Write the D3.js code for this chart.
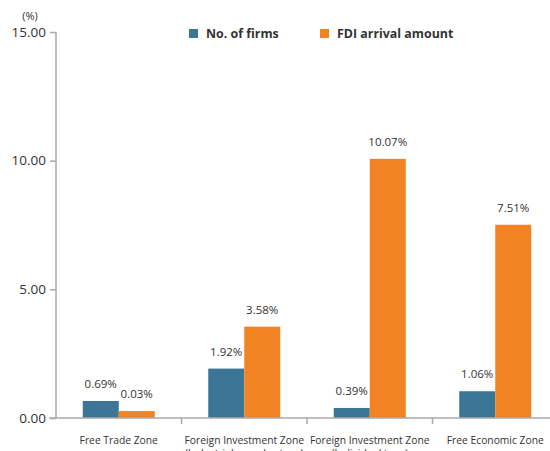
<!DOCTYPE html>
<html>
<head>
<meta charset="utf-8">
<script src="https://cdnjs.cloudflare.com/ajax/libs/d3/7.8.5/d3.min.js"></script>
<style>
  body { margin: 0; background: #fff; }
  text { font-family: "Open Sans", sans-serif; fill: #333; }
</style>
</head>
<body>
<div id="chart"></div>
<script>
// data
var categories = ["Free Trade Zone", "Foreign Investment Zone (Industrial complex type)",
                  "Foreign Investment Zone (Individual type)", "Free Economic Zone"];
var catLines = [["Free Trade Zone"],
                ["Foreign Investment Zone", "(Industrial complex type)"],
                ["Foreign Investment Zone", "(Individual type)"],
                ["Free Economic Zone"]];
var seriesNames = ["No. of firms", "FDI arrival amount"];
var firms = [0.66, 1.92, 0.39, 1.04];
var fdi = [0.27, 3.55, 10.07, 7.51];
var firmsLabels = ["0.69%", "1.92%", "0.39%", "1.06%"];
var fdiLabels = ["0.03%", "3.58%", "10.07%", "7.51%"];
var yTicks = [0, 5, 10, 15];

var colors = ["#3b7696", "#f28325"];

var width = 550, height = 451;

var svg = d3.select("#chart").append("svg")
    .attr("width", width)
    .attr("height", height);

var y = d3.scaleLinear().domain([0, 15]).range([418, 32]);

var x0 = d3.scaleBand()
    .domain(categories)
    .range([56, 558])
    .paddingInner(0.4263)
    .paddingOuter(0.21315);

var x1 = d3.scaleBand()
    .domain(seriesNames)
    .range([0, x0.bandwidth()]);

// y axis
var yAxis = d3.axisLeft(y)
    .tickValues(yTicks)
    .tickSize(6)
    .tickFormat(d3.format(".2f"));

var gy = svg.append("g")
    .attr("transform", "translate(56,0)")
    .call(yAxis);
gy.select(".domain").remove();
gy.selectAll(".tick line").attr("stroke", "#aaa").attr("stroke-width", 1.5);
gy.selectAll(".tick text")
    .attr("x", -10)
    .style("font-size", "13.5px")
    .style("font-family", "Open Sans, sans-serif")
    .attr("fill", "#333");

svg.append("line")
    .attr("x1", 56).attr("x2", 56)
    .attr("y1", y(15)).attr("y2", y(0))
    .attr("stroke", "#aaa").attr("stroke-width", 1.5);

svg.append("text")
    .attr("x", 30).attr("y", 20)
    .attr("text-anchor", "middle")
    .style("font-size", "11px")
    .text("(%)");

// bars
var rows = categories.map(function (c, i) {
    return [
        { cat: c, key: seriesNames[0], value: firms[i], label: firmsLabels[i] },
        { cat: c, key: seriesNames[1], value: fdi[i], label: fdiLabels[i] }
    ];
});

var g = svg.selectAll(".grp")
    .data(rows)
    .enter().append("g")
    .attr("transform", function (d) { return "translate(" + x0(d[0].cat) + ",0)"; });

g.selectAll("rect")
    .data(function (d) { return d; })
    .enter().append("rect")
    .attr("x", function (d) { return x1(d.key); })
    .attr("width", x1.bandwidth())
    .attr("y", function (d) { return y(d.value); })
    .attr("height", function (d) { return y(0) - y(d.value); })
    .attr("fill", function (d, i) { return colors[i]; });

g.selectAll(".label")
    .data(function (d) { return d; })
    .enter().append("text")
    .attr("class", "label")
    .attr("x", function (d) { return x1(d.key) + x1.bandwidth() / 2; })
    .attr("y", function (d) { return y(d.value) - 13; })
    .attr("text-anchor", "middle")
    .style("font-size", "11.5px")
    .text(function (d) { return d.label; });

// x axis
svg.append("line")
    .attr("x1", 49).attr("x2", 550)
    .attr("y1", y(0)).attr("y2", y(0))
    .attr("stroke", "#aaa").attr("stroke-width", 1.5);

var dividers = categories.slice(1).map(function (c) {
    return x0(c) - x0.step() * x0.paddingInner() / 2;
});
svg.selectAll(".divtick")
    .data(dividers)
    .enter().append("line")
    .attr("x1", function (d) { return d; })
    .attr("x2", function (d) { return d; })
    .attr("y1", y(0)).attr("y2", y(0) + 6)
    .attr("stroke", "#aaa").attr("stroke-width", 1.5);

var cl = svg.selectAll(".cat")
    .data(categories)
    .enter().append("text")
    .attr("class", "cat")
    .attr("x", function (d) { return x0(d) + x0.bandwidth() / 2; })
    .attr("y", 444)
    .attr("text-anchor", "middle")
    .style("font-size", "10.3px");
cl.selectAll("tspan")
    .data(function (d, i) { return catLines[i]; })
    .enter().append("tspan")
    .attr("x", function () { return d3.select(this.parentNode).attr("x"); })
    .attr("dy", function (d, i) { return i === 0 ? 0 : 13; })
    .text(function (d) { return d; });

// legend
var legendX = [189, 320];
var lg = svg.selectAll(".legend")
    .data(seriesNames)
    .enter().append("g")
    .attr("transform", function (d, i) { return "translate(" + legendX[i] + ",29)"; });
lg.append("rect")
    .attr("width", 9).attr("height", 9)
    .attr("fill", function (d, i) { return colors[i]; });
lg.append("text")
    .attr("x", 17).attr("y", 9)
    .style("font-size", "12.4px")
    .style("font-weight", "bold")
    .text(function (d) { return d; });
</script>
</body>
</html>
